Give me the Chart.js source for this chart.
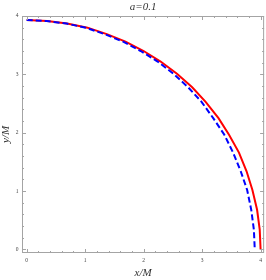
<!DOCTYPE html>
<html>
<head>
<meta charset="utf-8">
<script src="https://cdn.jsdelivr.net/npm/chart.js@4"></script>
<style>
  html, body { margin: 0; padding: 0; background: #fff; }
  #wrap { width: 266px; height: 280px; }
</style>
</head>
<body>
<div id="wrap"><canvas id="orbitChart"></canvas></div>
<script>
"use strict";
// curve readings (x/M, y/M)
var redX  = [0, 0.35, 0.69, 1.04, 1.37, 1.69, 2.00, 2.29, 2.57, 2.83, 3.06, 3.28, 3.46, 3.63, 3.76, 3.86, 3.94, 3.985, 4.00];
var redY  = [3.93, 3.915, 3.87, 3.80, 3.69, 3.56, 3.40, 3.22, 3.01, 2.78, 2.53, 2.25, 1.965, 1.66, 1.34, 1.02, 0.68, 0.34, 0];
var blueX = [0, 0.34, 0.68, 1.01, 1.33, 1.65, 1.95, 2.24, 2.51, 2.76, 2.99, 3.19, 3.38, 3.53, 3.66, 3.77, 3.84, 3.885, 3.90];
var blueY = [3.93, 3.915, 3.87, 3.80, 3.69, 3.56, 3.40, 3.22, 3.01, 2.78, 2.53, 2.25, 1.965, 1.66, 1.34, 1.02, 0.68, 0.34, 0];
var tickLabels = ["0", "1", "2", "3", "4"];

function pts(xs, ys) {
    return xs.map(function (x, i) { return { x: x, y: ys[i] }; });
}

function intLabel(v) {
    var r = Math.round(v);
    if (Math.abs(v - r) < 1e-6 && r >= 0 && r < tickLabels.length) return tickLabels[r];
    return "";
}

// frame with inward ticks on all four sides
var framePlugin = {
    id: "frame",
    afterDatasetsDraw: function (chart) {
        var c = chart.ctx, a = chart.chartArea;
        var sx = chart.scales.x, sy = chart.scales.y;
        c.save();
        c.strokeStyle = "#a4a4a4";
        c.lineWidth = 1;
        c.strokeRect(a.left + 0.5, a.top + 0.5, a.right - a.left - 1, a.bottom - a.top - 1);
        c.beginPath();
        for (var i = 0; i <= 20; i++) {
            var v = i * 0.2;
            var len = (i % 5 === 0) ? 4 : 2;
            var px = Math.round(sx.getPixelForValue(v)) + 0.5;
            c.moveTo(px, a.bottom); c.lineTo(px, a.bottom - len);
            c.moveTo(px, a.top); c.lineTo(px, a.top + len);
            var py = Math.round(sy.getPixelForValue(v)) + 0.5;
            c.moveTo(a.left, py); c.lineTo(a.left + len, py);
            c.moveTo(a.right, py); c.lineTo(a.right - len, py);
        }
        c.stroke();
        c.restore();
    }
};

var ctx = document.getElementById("orbitChart");
var orbitChart = new Chart(ctx, {
    type: "scatter",
    data: {
        datasets: [{
            data: pts(blueX, blueY),
            showLine: true,
            borderColor: "#0000ff",
            borderWidth: 2,
            borderDash: [6, 3],
            pointRadius: 0,
            order: 1
        }, {
            data: pts(redX, redY),
            showLine: true,
            borderColor: "#ff0000",
            borderWidth: 2,
            pointRadius: 0,
            order: 2
        }]
    },
    options: {
        responsive: true,
        maintainAspectRatio: false,
        animation: false,
        events: [],
        layout: { padding: { top: 0, right: 1.5, left: 0, bottom: 0 } },
        plugins: {
            legend: { display: false },
            tooltip: { enabled: false },
            title: {
                display: true,
                text: "a=0.1",
                fullSize: false,
                color: "#333",
                font: { family: "Liberation Serif", size: 11, style: "italic", weight: "normal" },
                padding: { top: 1, bottom: 1.8 }
            }
        },
        scales: {
            x: {
                type: "linear",
                min: -0.08,
                max: 4.06,
                grid: { display: false, drawTicks: false },
                border: { display: false },
                afterFit: function (s) { s.height = 27; },
                ticks: {
                    stepSize: 1,
                    includeBounds: false,
                    maxTicksLimit: 50,
                    autoSkip: false,
                    maxRotation: 0,
                    padding: 4,
                    color: "#444",
                    font: { family: "Liberation Serif", size: 5.5 },
                    callback: function (v) { return intLabel(v); }
                },
                title: {
                    display: true,
                    text: "x/M",
                    color: "#333",
                    font: { family: "Liberation Serif", size: 11, style: "italic" },
                    padding: { top: 0, bottom: 0 }
                }
            },
            y: {
                type: "linear",
                min: -0.06,
                max: 4.0,
                grid: { display: false, drawTicks: false },
                border: { display: false },
                afterFit: function (s) { s.width = 22; },
                ticks: {
                    stepSize: 1,
                    includeBounds: false,
                    maxTicksLimit: 50,
                    autoSkip: false,
                    padding: 3.5,
                    color: "#444",
                    font: { family: "Liberation Serif", size: 5.5 },
                    callback: function (v) { return intLabel(v); }
                },
                title: {
                    display: true,
                    text: "y/M",
                    color: "#333",
                    font: { family: "Liberation Serif", size: 11, style: "italic" },
                    padding: { top: 0, bottom: 0 }
                }
            }
        }
    },
    plugins: [framePlugin]
});
</script>
</body>
</html>
